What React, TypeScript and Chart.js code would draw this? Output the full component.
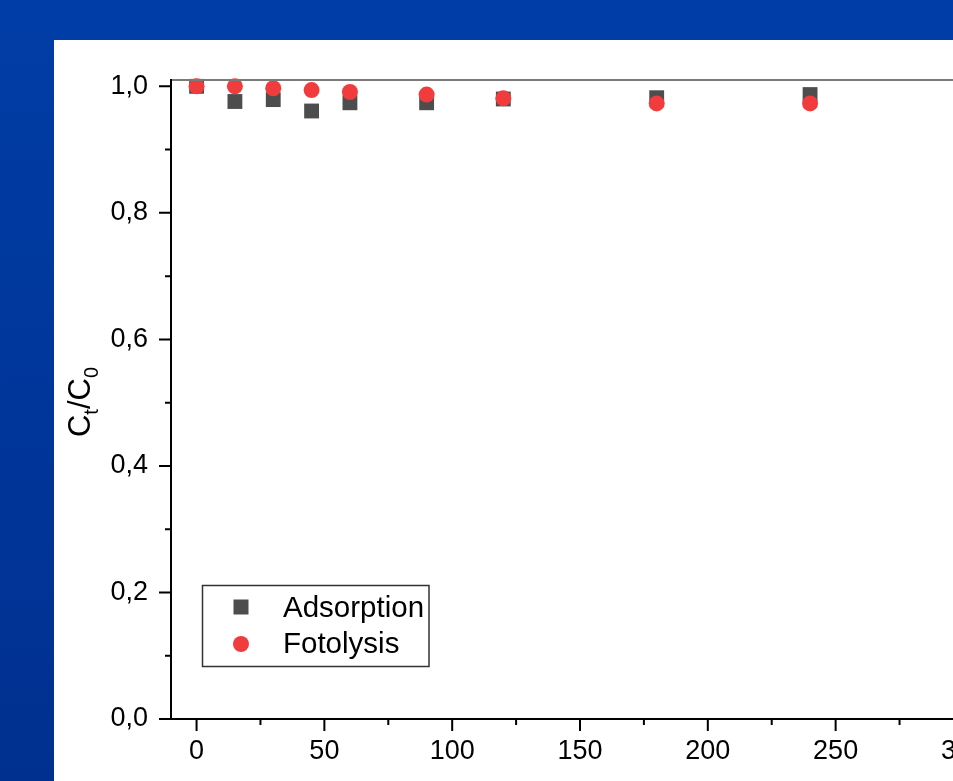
import React, { useEffect, useRef } from 'react';
import { Chart, registerables } from 'chart.js';

Chart.register(...registerables);

// ---- data ----
const timeMin = [0, 15, 30, 45, 60, 90, 120, 180, 240];
const adsorption = [1.0, 0.976, 0.979, 0.961, 0.974, 0.974, 0.98, 0.982, 0.987];
const fotolysis = [1.0, 1.0, 0.997, 0.994, 0.991, 0.987, 0.981, 0.973, 0.973];
const seriesNames = ['Adsorption', 'Fotolysis'];
const xMajorTicks = [0, 50, 100, 150, 200, 250, 300];
const xMinorTicks = [25, 75, 125, 175, 225, 275];
const yMajorTicks = [0, 0.2, 0.4, 0.6, 0.8, 1.0];
const yMinorTicks = [0.1, 0.3, 0.5, 0.7, 0.9];

const FONT = '"Liberation Sans", Arial, Helvetica, sans-serif';
const CANVAS_W = 1100;
const CANVAS_H = 781;

const backgroundPlugin = {
  id: 'bgPanel',
  beforeDraw(chart: any) {
    const ctx = chart.ctx;
    const g = ctx.createLinearGradient(0, 0, 0, chart.height);
    g.addColorStop(0, '#003DA6');
    g.addColorStop(1, '#00308F');
    ctx.save();
    ctx.fillStyle = g;
    ctx.fillRect(0, 0, chart.width, chart.height);
    ctx.fillStyle = '#ffffff';
    ctx.fillRect(54, 40, chart.width - 54, chart.height - 40);
    ctx.restore();
  },
};

const axesPlugin = {
  id: 'originAxes',
  afterDatasetsDraw(chart: any) {
    const ctx = chart.ctx;
    const { left, right, top, bottom } = chart.chartArea;
    const xs = chart.scales.x;
    const ys = chart.scales.y;
    ctx.save();
    // top frame
    ctx.strokeStyle = '#7a7a7a';
    ctx.lineWidth = 2;
    ctx.beginPath();
    ctx.moveTo(left, top);
    ctx.lineTo(right, top);
    ctx.stroke();
    // axes
    ctx.strokeStyle = '#000';
    ctx.lineWidth = 2;
    ctx.beginPath();
    ctx.moveTo(left, top - 1);
    ctx.lineTo(left, bottom + 1);
    ctx.moveTo(left - 1, bottom);
    ctx.lineTo(right, bottom);
    ctx.stroke();
    // ticks
    ctx.beginPath();
    xMajorTicks.forEach((v) => {
      const px = xs.getPixelForValue(v);
      ctx.moveTo(px, bottom);
      ctx.lineTo(px, bottom + 12);
    });
    xMinorTicks.forEach((v) => {
      const px = xs.getPixelForValue(v);
      ctx.moveTo(px, bottom);
      ctx.lineTo(px, bottom + 6);
    });
    yMajorTicks.forEach((v) => {
      const py = ys.getPixelForValue(v);
      ctx.moveTo(left, py);
      ctx.lineTo(left - 12, py);
    });
    yMinorTicks.forEach((v) => {
      const py = ys.getPixelForValue(v);
      ctx.moveTo(left, py);
      ctx.lineTo(left - 6, py);
    });
    ctx.stroke();
    ctx.restore();
  },
};

const legendPlugin = {
  id: 'insetLegend',
  afterDraw(chart: any) {
    const ctx = chart.ctx;
    const ds = chart.data.datasets;
    ctx.save();
    ctx.strokeStyle = '#333';
    ctx.lineWidth = 1.5;
    ctx.strokeRect(202.5, 585.5, 226.5, 81);
    ctx.font = `29.5px ${FONT}`;
    ctx.textBaseline = 'alphabetic';
    ctx.textAlign = 'left';
    const rows = [
      { label: ds[0].label, color: ds[0].backgroundColor, style: 'rect', y: 607, base: 617 },
      { label: ds[1].label, color: ds[1].backgroundColor, style: 'circle', y: 644, base: 653 },
    ];
    rows.forEach((r) => {
      ctx.fillStyle = r.color;
      if (r.style === 'rect') {
        ctx.fillRect(241 - 7.5, r.y - 7.5, 15, 15);
      } else {
        ctx.beginPath();
        ctx.arc(241, r.y, 8, 0, Math.PI * 2);
        ctx.fill();
      }
      ctx.fillStyle = '#000';
      ctx.fillText(r.label, 283, r.base);
    });
    ctx.restore();
  },
};

const yTitlePlugin = {
  id: 'yTitle',
  afterDraw(chart: any) {
    const ctx = chart.ctx;
    const main = `31px ${FONT}`;
    const sub = `20px ${FONT}`;
    const parts = [
      { t: 'C', f: main, dy: 0 },
      { t: 't', f: sub, dy: 8 },
      { t: '/C', f: main, dy: 0 },
      { t: '0', f: sub, dy: 8 },
    ];
    ctx.save();
    let total = 0;
    parts.forEach((p) => {
      ctx.font = p.f;
      total += ctx.measureText(p.t).width;
    });
    const cy = 402;
    const bx = 90;
    ctx.translate(bx, cy);
    ctx.rotate(-Math.PI / 2);
    ctx.fillStyle = '#000';
    ctx.textBaseline = 'alphabetic';
    ctx.textAlign = 'left';
    let x = -total / 2;
    parts.forEach((p) => {
      ctx.font = p.f;
      ctx.fillText(p.t, x, p.dy);
      x += ctx.measureText(p.t).width;
    });
    ctx.restore();
  },
};

export default function App() {
  const ref = useRef<HTMLCanvasElement | null>(null);

  useEffect(() => {
    if (!ref.current) return;
    const chart = new Chart(ref.current, {
      type: 'scatter',
      data: {
        datasets: [
          {
            label: seriesNames[0],
            data: timeMin.map((t, i) => ({ x: t, y: adsorption[i] })),
            backgroundColor: '#4d4d4d',
            borderWidth: 0,
            pointStyle: 'rect',
            pointRadius: 10.5,
            pointHoverRadius: 10.5,
            order: 1,
            clip: false,
          },
          {
            label: seriesNames[1],
            data: timeMin.map((t, i) => ({ x: t, y: fotolysis[i] })),
            backgroundColor: '#f03c3c',
            borderWidth: 0,
            pointStyle: 'circle',
            pointRadius: 8,
            pointHoverRadius: 8,
            order: 0,
            clip: false,
          },
        ],
      },
      options: {
        animation: false,
        responsive: false,
        devicePixelRatio: 1,
        layout: { padding: { top: 80, right: 111, left: 0, bottom: 0 } },
        plugins: { legend: { display: false }, tooltip: { enabled: false } },
        events: [],
        scales: {
          x: {
            type: 'linear',
            min: -10,
            max: 310,
            afterFit(scale: any) {
              scale.height = 62;
            },
            grid: { display: false, drawTicks: false },
            border: { display: false },
            ticks: {
              includeBounds: false,
              stepSize: 50,
              padding: 16,
              color: '#000',
              maxRotation: 0,
              font: { family: FONT, size: 27 },
              callback: (v: any) => String(v),
            },
          },
          y: {
            type: 'linear',
            min: 0,
            max: 1.01,
            afterFit(scale: any) {
              scale.width = 171;
            },
            grid: { display: false, drawTicks: false },
            border: { display: false },
            ticks: {
              includeBounds: false,
              stepSize: 0.2,
              padding: 23,
              color: '#000',
              font: { family: FONT, size: 27 },
              callback: (v: any) => Number(v).toFixed(1).replace('.', ','),
            },
          },
        },
      },
      plugins: [backgroundPlugin, axesPlugin, legendPlugin, yTitlePlugin],
    });
    return () => chart.destroy();
  }, []);

  return (
    <div
      style={{
        position: 'fixed',
        left: 0,
        top: 0,
        width: 953,
        height: 781,
        overflow: 'hidden',
      }}
    >
      <canvas
        ref={ref}
        width={CANVAS_W}
        height={CANVAS_H}
        style={{ display: 'block', width: CANVAS_W, height: CANVAS_H }}
      />
    </div>
  );
}
